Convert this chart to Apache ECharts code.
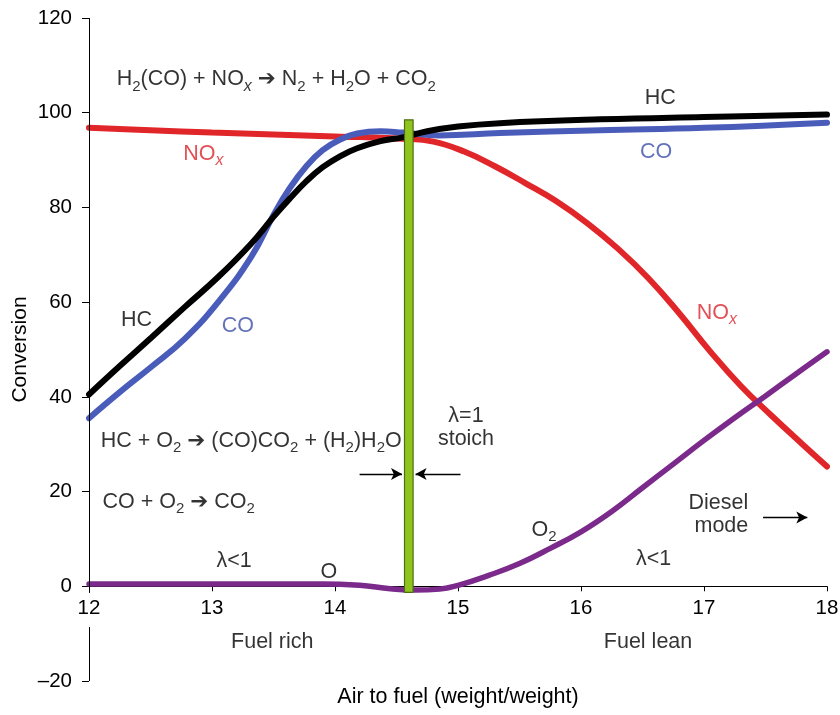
<!DOCTYPE html>
<html><head><meta charset="utf-8">
<script src="https://cdn.jsdelivr.net/npm/echarts@6/dist/echarts.min.js"></script>
<style>html,body{margin:0;padding:0;background:#fff}#c{width:840px;height:715px}</style>
</head><body><div id="c"></div>
<script>
// ---- data ----
const xTicks = [12, 13, 14, 15, 16, 17, 18];
const yTicks = [-20, 0, 20, 40, 60, 80, 100, 120];

const hcData = [[12.0,40.5],[12.25,46.5],[12.51,52.6],[12.78,59.0],[13.05,65.3],[13.32,72.4],[13.5,78.0],[13.63,81.8],[13.77,85.6],[13.9,88.5],[14.04,90.8],[14.18,92.5],[14.37,94.0],[14.55,94.8],[14.75,96.1],[15.0,97.1],[15.34,97.8],[16.16,98.6],[17.0,99.1],[18.0,99.6]];
const coData = [[12.0,35.5],[12.25,41.0],[12.51,46.4],[12.78,52.3],[13.05,60.0],[13.32,69.6],[13.5,78.4],[13.63,84.0],[13.77,88.8],[13.9,92.1],[14.04,94.3],[14.18,95.6],[14.37,96.1],[14.55,95.8],[14.85,95.2],[15.34,95.7],[16.16,96.3],[17.0,96.8],[18.0,97.9]];
const noxData = [[12.0,96.8],[12.5,96.3],[13.0,95.8],[13.5,95.4],[14.0,95.0],[14.55,94.5],[14.8,93.9],[15.05,91.8],[15.3,88.7],[15.55,85.1],[15.8,81.3],[16.05,76.7],[16.3,71.3],[16.55,65.0],[16.8,57.6],[17.05,49.6],[17.3,42.3],[17.55,36.0],[17.8,30.0],[18.0,25.3]];
const o2Data = [[12.0,0.5],[13.0,0.5],[13.9,0.5],[14.2,0.2],[14.45,-0.5],[14.65,-0.8],[14.85,-0.6],[15.0,0.2],[15.25,2.3],[15.5,4.8],[15.75,8.0],[16.0,11.5],[16.25,15.8],[16.5,20.8],[16.75,25.8],[17.0,30.8],[17.25,35.6],[17.5,40.2],[17.75,44.9],[18.0,49.5]];
const stoichBar = [[14.6, -1.3, 98.5]];   // x, bottom, top
const axisBreak = [-1.4, -8.6];

// ---- annotations (text, data position) ----
const annotations = [
  {t:'H_2(CO) + NO_x ➔ N_2 + H_2O + CO_2', x:12.225, y:107.0, pos:'right'},
  {t:'HC + O_2 ➔ (CO)CO_2 + (H_2)H_2O', x:12.095, y:30.7, pos:'right'},
  {t:'CO + O_2 ➔ CO_2', x:12.109, y:17.8, pos:'right'},
  {t:'NO_x', x:12.93, y:91.2, c:'red'},
  {t:'NO_x', x:17.105, y:57.6, c:'red'},
  {t:'HC', x:16.644, y:103.0},
  {t:'CO', x:16.61, y:91.6, c:'blue'},
  {t:'HC', x:12.386, y:56.2},
  {t:'CO', x:13.21, y:54.9, c:'blue'},
  {t:'λ=1\nstoich', x:15.065, y:33.6, multi:true},
  {t:'Diesel\nmode', x:17.36, y:15.05, multi:true, pos:'left'},
  {t:'O_2', x:15.70, y:11.9},
  {t:'λ<1', x:16.59, y:5.76},
  {t:'λ<1', x:13.18, y:5.4},
  {t:'O', x:13.95, y:2.9},
  {t:'Fuel rich', x:13.49, y:-11.7},
  {t:'Fuel lean', x:16.545, y:-11.7}
];

// ---- styles ----
const FONT = '"Liberation Sans", Arial, "DejaVu Sans", sans-serif';
const COL = {black:'#000000', blue:'#4a5cba', red:'#e1262a', purple:'#7b2a8b', green:'#8fc41f', greenEdge:'#4f6d14'};
const TXT = {red:'#d9262c', blue:'#3c50a8', black:'#000000'};
const RICH = {
  n:{fontSize:21.5, lineHeight:29, fontFamily:FONT},
  m:{fontSize:21.5, lineHeight:23, fontFamily:FONT},
  s:{fontSize:15, lineHeight:15, verticalAlign:'bottom', fontFamily:FONT},
  sx:{fontSize:16, lineHeight:15, verticalAlign:'bottom', fontStyle:'italic', fontFamily:FONT}
};
function rich(str, st){
  let out='', buf='';
  const flush=()=>{ if(buf){ out+='{'+st+'|'+buf+'}'; buf=''; } };
  for(let i=0;i<str.length;i++){
    const ch=str[i];
    if(ch==='_'){ flush(); const c=str[i+1]; out+='{'+(c==='x'?'sx':'s')+'|'+c+'}'; i++; }
    else if(ch==='\n'){ flush(); out+='\n'; }
    else buf+=ch;
  }
  flush();
  return out;
}

const GRID = {left:89, right:13, top:18, bottom:34};
const plotH = 715 - GRID.top - GRID.bottom;
const yMin = yTicks[0], yMax = yTicks[yTicks.length-1];
const xAxisShift = -plotH * (0 - yMin) / (yMax - yMin);   // move the x axis up to y = 0

const chart = echarts.init(document.getElementById('c'), null, {renderer:'canvas'});
const lineSeries = (name, data, color, width) => ({
  name, type:'line', data, smooth:0.45, showSymbol:false, symbol:'none', silent:true, clip:false,
  lineStyle:{color, width, cap:'round'}, z:2
});
const arrowEnd = (a, b) => [{coord:a, symbol:'none'}, {coord:b, symbol:'arrow', symbolSize:[9,11]}];

chart.setOption({
  animation:false,
  backgroundColor:'#fff',
  grid:Object.assign({containLabel:false, outerBoundsMode:'none'}, GRID),
  xAxis:{
    type:'value', min:xTicks[0], max:xTicks[xTicks.length-1], interval:1,
    offset:xAxisShift,
    name:'Air to fuel (weight/weight)', nameLocation:'middle', nameGap:100, nameMoveOverlap:false,
    nameTextStyle:{fontFamily:FONT, fontSize:21.5, color:'#000'},
    axisLine:{show:true, onZero:false, lineStyle:{color:'#000', width:1}},
    axisTick:{show:true, length:5, lineStyle:{color:'#000', width:1}},
    axisLabel:{margin:12, fontFamily:FONT, fontSize:20.5, color:'#000'},
    splitLine:{show:false}
  },
  yAxis:{
    type:'value', min:yMin, max:yMax, interval:20,
    name:'Conversion', nameLocation:'middle', nameGap:58, nameRotate:90, nameMoveOverlap:false,
    nameTextStyle:{fontFamily:FONT, fontSize:21, color:'#000'},
    axisLine:{show:false},
    axisTick:{show:true, length:7, lineStyle:{color:'#000', width:1}},
    axisLabel:{margin:17, fontFamily:FONT, fontSize:20.5, color:'#000',
      formatter:v => v < 0 ? '\u2013' + Math.abs(v) : String(v)},
    splitLine:{show:false}
  },
  series:[
    lineSeries('NOx', noxData, COL.red, 6),
    lineSeries('CO', coData, COL.blue, 6),
    lineSeries('HC', hcData, COL.black, 6),
    lineSeries('O2', o2Data, COL.purple, 5.5),
    {
      name:'stoich', type:'custom', data:stoichBar, silent:true, z:5, clip:false,
      renderItem:(params, api) => {
        const x = api.value(0);
        const pTop = api.coord([x, api.value(2)]);
        const pBot = api.coord([x, api.value(1)]);
        const w = api.size([0.07, 0])[0];
        return {type:'rect', shape:{x:pTop[0]-w/2, y:pTop[1], width:w, height:pBot[1]-pTop[1]},
          style:{fill:COL.green, stroke:COL.greenEdge, lineWidth:1.2}};
      }
    },
    {
      name:'guides', type:'scatter', data:[[12,0]], symbolSize:0, silent:true, z:6,
      markLine:{
        silent:true, animation:false, label:{show:false},
        lineStyle:{color:'#000', width:1.3, type:'solid'},
        symbol:['none','none'],
        data:[
          [{coord:[12, yMax], symbol:'none', lineStyle:{width:1}}, {coord:[12, axisBreak[0]], symbol:'none'}],
          [{coord:[12, axisBreak[1]], symbol:'none', lineStyle:{width:1}}, {coord:[12, yMin], symbol:'none'}],
          arrowEnd([14.2, 23.7], [14.545, 23.7]),
          arrowEnd([15.02, 23.7], [14.655, 23.7]),
          arrowEnd([17.48, 14.5], [17.84, 14.5])
        ]
      }
    },
    {
      name:'labels', type:'scatter', symbolSize:0, silent:true, z:10, clip:false,
      data: annotations.map(a => ({
        value:[a.x, a.y],
        label:{
          show:true, position:a.pos || 'inside', distance:0,
          align: a.pos==='right' ? 'left' : (a.pos==='left' ? 'right' : 'center'),
          verticalAlign:'middle',
          color: TXT[a.c || 'black'],
          formatter: rich(a.t, a.multi ? 'm' : 'n'),
          rich: RICH
        }
      }))
    }
  ]
});
</script>
</body></html>
